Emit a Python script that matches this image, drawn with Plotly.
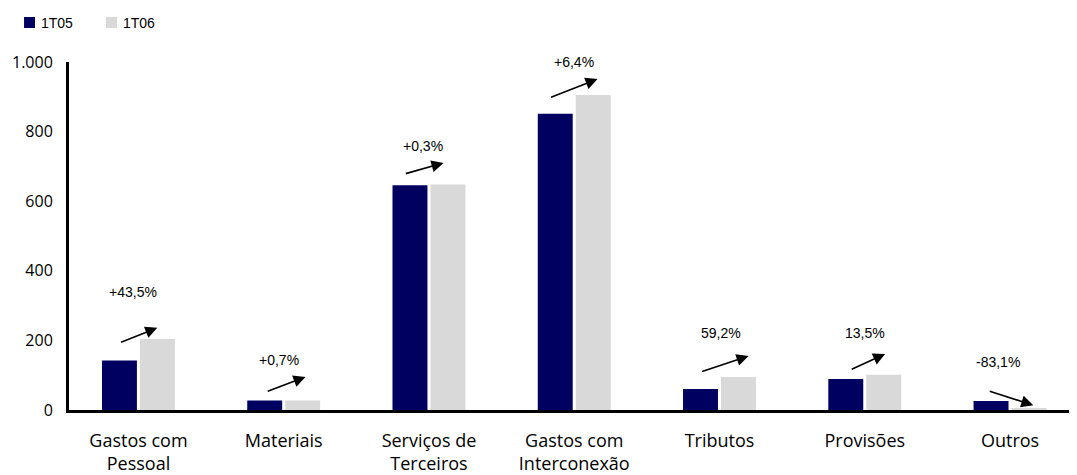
import plotly.graph_objects as go

categories = ["Gastos com<br>Pessoal", "Materiais", "Serviços de<br>Terceiros",
              "Gastos com<br>Interconexão", "Tributos", "Provisões", "Outros"]
v_1t05 = [142, 27, 646, 851, 60, 89, 26]
v_1t06 = [204, 27.2, 648, 905, 95, 101, 4.4]
changes = ["+43,5%", "+0,7%", "+0,3%", "+6,4%", "59,2%", "13,5%", "-83,1%"]

# label / arrow placement per category (data units, relative to category index)
label_dx = [-0.04, -0.03, -0.04, -0.00, 0.01, 0.00, -0.08]
label_y = [339, 144, 759, 1000, 221, 221, 138]
arrow_tail = [(-0.13, 193), (-0.12, 52), (-0.17, 678), (-0.17, 897), (-0.13, 109), (-0.10, 115), (-0.15, 55)]
arrow_head = [(0.13, 236), (0.15, 95), (0.10, 710), (0.16, 951), (0.20, 155), (0.14, 161), (0.16, 14)]

DARK = "#000060"
LIGHT = "#D9D9D9"

x_idx = list(range(len(categories)))

fig = go.Figure()
fig.add_trace(go.Bar(x=x_idx, y=v_1t05, name="1T05", marker=dict(color=DARK, line=dict(width=0))))
fig.add_trace(go.Bar(x=x_idx, y=v_1t06, name="1T06", marker=dict(color=LIGHT, line=dict(width=0))))

annotations = []
for i, txt in enumerate(changes):
    annotations.append(dict(
        x=i + label_dx[i], y=label_y[i], xref="x", yref="y", text=txt, showarrow=False,
        font=dict(family="Liberation Sans, Arial", size=14, color="#000000"),
        xanchor="center", yanchor="middle",
    ))
    tx, ty = arrow_tail[i]
    hx, hy = arrow_head[i]
    annotations.append(dict(
        x=i + hx, y=hy, ax=i + tx, ay=ty, xref="x", yref="y", axref="x", ayref="y",
        text="", showarrow=True, arrowhead=2, arrowsize=1.5, arrowwidth=1.6,
        arrowcolor="#000000",
    ))

# compact legend drawn by hand (plotly's own legend leaves a wide gap after the swatch)
shapes = []
legend_x0 = [-0.0446, 0.0367]
for tr, x0 in zip(fig.data, legend_x0):
    shapes.append(dict(type="rect", xref="paper", yref="paper", x0=x0, x1=x0 + 0.0109,
                       y0=1.0977, y1=1.1293, fillcolor=tr.marker.color, line=dict(width=0)))
    annotations.append(dict(x=x0 + 0.0145, y=1.1135, xref="paper", yref="paper", text=tr.name,
                            showarrow=False, xanchor="left", yanchor="middle",
                            font=dict(family="Liberation Sans, Arial", size=14, color="#000000")))

# page body has an 8px margin, so the figure is sized to fit the window
fig.update_layout(
    width=1069, height=467,
    margin=dict(l=61, r=0, t=54, b=65, autoexpand=False),
    paper_bgcolor="white", plot_bgcolor="white",
    barmode="group", bargap=0.477, bargroupgap=0.08,
    showlegend=False,
    annotations=annotations,
    shapes=shapes,
)
fig.update_xaxes(
    tickmode="array", tickvals=x_idx, ticktext=categories,
    range=[-0.478, 6.461], showline=True, linecolor="#000000", linewidth=3,
    showgrid=False, zeroline=False, ticks="", ticklabelstandoff=12,
    tickfont=dict(family="Open Sans", size=18, color="#000000"),
)
fig.update_yaxes(
    range=[0, 1000], tickmode="array", tickvals=[0, 200, 400, 600, 800, 1000],
    ticktext=["0", "200", "400", "600", "800", "1.000"],
    showline=True, linecolor="#000000", linewidth=3,
    showgrid=False, zeroline=False, ticks="", ticklabelstandoff=10,
    tickfont=dict(family="Open Sans", size=16, color="#000000"),
)

fig.write_html("out.html")
